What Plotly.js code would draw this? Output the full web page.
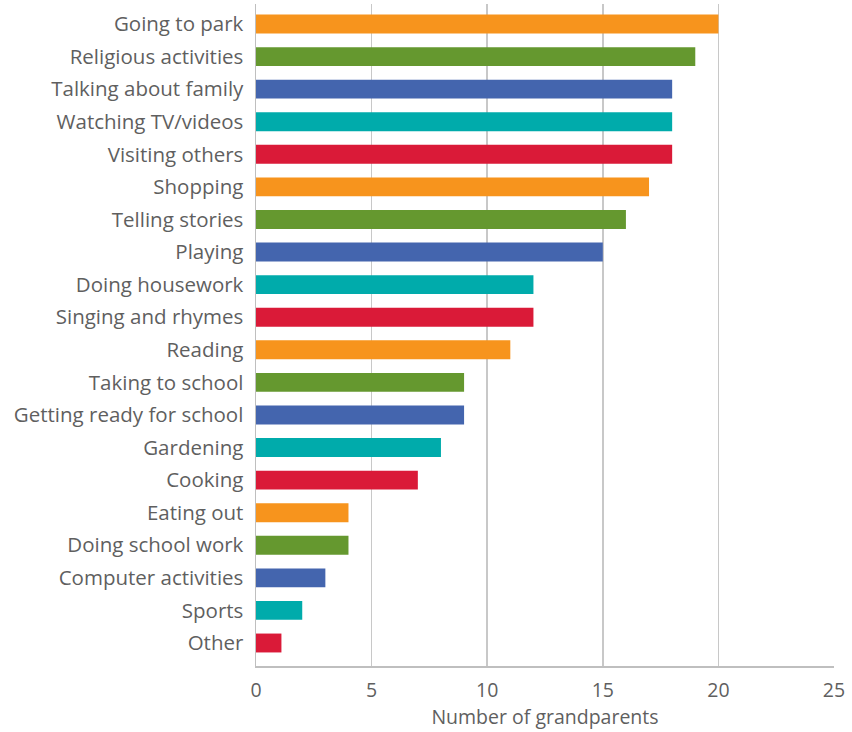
<!DOCTYPE html>
<html><head><meta charset="utf-8">
<script src="https://cdn.plot.ly/plotly-3.0.1.min.js"></script>
<style>body{margin:0;background:#fff}#chart{width:852px;height:732px}</style>
</head><body><div id="chart"></div>
<script>
const categories = ["Going to park","Religious activities","Talking about family","Watching TV/videos","Visiting others","Shopping","Telling stories","Playing","Doing housework","Singing and rhymes","Reading","Taking to school","Getting ready for school","Gardening","Cooking","Eating out","Doing school work","Computer activities","Sports","Other"];
const values = [20,19,18,18,18,17,16,15,12,12,11,9,9,8,7,4,4,3,2,1.1];
const palette = ["#F7941D","#65982F","#4465AE","#00ABAB","#DA1A38"];
const colors = categories.map((c,i)=>palette[i%5]);
const xTicks = [0,5,10,15,20,25];

Plotly.newPlot('chart',[{
  type:'bar', orientation:'h', x:values, y:categories,
  marker:{color:colors}, hoverinfo:'x+y'
}],{
  width:852, height:732,
  margin:{l:256,r:18,t:4,b:66},
  bargap:0.42,
  paper_bgcolor:'#fff', plot_bgcolor:'#fff',
  font:{family:'"Open Sans", "Noto Sans", sans-serif', color:'#5f5f5f'},
  xaxis:{range:[0,25], tickvals:xTicks, showgrid:true, gridcolor:'#C8C8C8', gridwidth:1.5,
    zeroline:false, showline:true, linecolor:'#BFBFBF', linewidth:1.5,
    tickfont:{size:19.5, color:'#5f5f5f'}, ticks:'outside', ticklen:6, tickcolor:'rgba(0,0,0,0)',
    title:{text:'Number of grandparents', font:{size:19.5, color:'#5f5f5f'}, standoff:6}},
  yaxis:{type:'category', range:[19.706,-0.614], showgrid:false, zeroline:false,
    showline:true, linecolor:'#BFBFBF', linewidth:1.5,
    tickfont:{size:20.5, color:'#5f5f5f'}, ticks:'', ticklabelstandoff:7},
  showlegend:false
},{displayModeBar:false, staticPlot:true});
</script></body></html>
